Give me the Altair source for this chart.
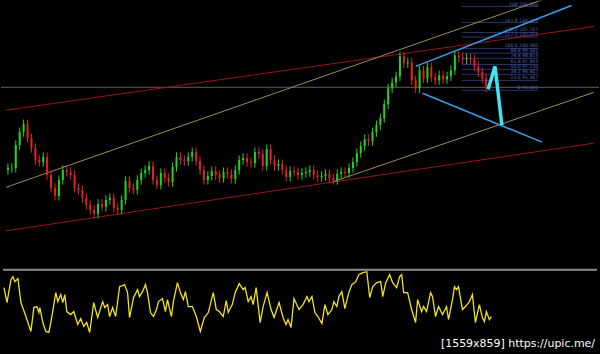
import altair as alt
import pandas as pd

# ---------------- data ----------------
first_open = 82.0
closes = [82.30, 82.30, 85.75, 87.70, 88.90, 86.80, 85.30, 83.50, 83.20, 83.95,
          81.25, 79.30, 78.10, 80.50, 82.00, 81.70, 81.25, 79.30, 79.00, 77.80,
          76.75, 76.00, 75.40, 76.90, 76.45, 77.50, 77.80, 76.30, 76.00, 77.50,
          80.35, 79.30, 79.00, 80.50, 81.55, 82.00, 82.60, 80.50, 79.75, 81.55,
          80.80, 80.20, 82.45, 83.95, 83.50, 83.35, 83.95, 84.70, 83.35, 82.00,
          80.50, 81.10, 81.85, 81.25, 80.80, 81.70, 81.40, 80.65, 82.00, 83.50,
          83.80, 83.20, 83.05, 84.70, 84.40, 82.60, 85.15, 83.50, 82.60, 82.90,
          82.00, 80.95, 81.85, 81.70, 81.25, 81.55, 81.70, 82.00, 81.25, 80.95,
          81.10, 81.40, 80.80, 80.50, 81.40, 81.70, 81.55, 82.30, 83.20, 84.55,
          85.60, 86.65, 86.35, 87.70, 88.75, 89.80, 91.90, 94.30, 95.20, 96.10,
          99.10, 98.05, 98.20, 95.50, 94.30, 97.00, 95.80, 97.45, 95.95, 95.50,
          96.25, 95.65, 96.10, 97.00, 99.25, 98.95, 98.65, 98.80, 98.65, 97.60,
          96.70, 95.80, 94.45]
wick = 0.7

fib_ratio = ["0", "23.6", "38.2", "50.0", "61.8", "76.4", "88.6", "100.0",
             "127.2", "138.2", "161.8", "200"]
fib_price = [94.000, 95.487, 96.407, 97.150, 97.893, 98.813, 99.582, 100.300,
             102.014, 102.707, 104.193, 106.600]
fib_t0, fib_t1 = 115.75, 135.25

hline_price = [94.45]

red_up_t, red_up_p = [-0.5, 149.5], [91.0, 103.6]
red_lo_t, red_lo_p = [-0.5, 149.5], [72.85, 86.05]
tan_up_t, tan_up_p = [-0.5, 149.5], [79.4, 110.35]
tan_lo_t, tan_lo_p = [82.75, 149.5], [80.2, 93.7]
blue_up_t, blue_up_p = [104.0, 143.75], [97.6, 106.75]
blue_lo_t, blue_lo_p = [105.75, 136.25], [93.55, 86.2]
cyan_t, cyan_p = [122.5, 124.25, 126.0], [94.15, 97.6, 88.75]

osc_t = [0.25, 1, 2, 2.5, 3, 3.75, 4.5, 5.75, 7, 7.75, 8.5, 9, 9.25, 10, 10.75, 11.5, 12,
         13.25, 13.75, 14.5, 15, 15.5, 16, 17, 17.75, 18.75, 19.5, 20.25, 21, 21.75, 22.75,
         23.75, 25, 25.5, 26.25, 26.75, 27.5, 28.25, 29.25, 30, 30.5, 31.25, 31.75, 32.75,
         33.75, 34.25, 35, 35.75, 36.25, 37, 37.75, 38.5, 39, 40, 40.75, 41.25, 42.25, 42.75,
         43.75, 44.5, 45.25, 45.75, 46.5, 47.5, 48.5, 49.5, 50.5, 51.5, 52.75, 53.5, 54.25,
         55.25, 56, 56.5, 57.5, 58.25, 59.25, 60.25, 60.75, 61.5, 62.25, 62.75, 63.5, 64.5,
         65.25, 66.25, 67.25, 68, 69.25, 70.25, 71, 71.5, 72.25, 73, 74.25, 75.25, 76.25,
         76.75, 77.5, 78.25, 79, 80, 80.75, 81.5, 82.5, 83, 83.75, 84.25, 85, 85.75, 86.75,
         87.5, 88.5, 89.25, 90.25, 91.25, 92, 92.75, 93.75, 94.75, 95.25, 96, 97, 97.75,
         98.75, 99.5, 100, 100.5, 101.5, 102.5, 103.5, 104, 105, 105.5, 106.25, 107.25,
         107.75, 108.5, 109.25, 110.25, 111.25, 111.75, 112.75, 113.25, 113.75, 114.25,
         115.25, 116, 117, 117.75, 118.5, 119.5, 120.25, 120.75, 121.25, 122, 122.5]
osc_v = [52, 37, 60, 63, 58, 61, 37, 23, 8, 32, 33, 27, 32, 17, 8, 7, 17,
         47, 38, 45, 37, 45, 28, 25, 28, 15, 21, 13, 17, 7, 37,
         22, 38, 32, 35, 23, 32, 23, 53, 54, 55, 47, 22, 42,
         50, 43, 48, 55, 47, 27, 23, 30, 38, 41, 28, 40, 23, 38,
         57, 47, 40, 48, 33, 33, 23, 8, 22, 27, 47, 30, 28,
         23, 39, 27, 35, 47, 56, 50, 52, 38, 43, 35, 52, 17,
         33, 47, 30, 22, 37, 22, 15, 20, 12, 41, 30, 35, 43,
         38, 43, 27, 23, 16, 35, 25, 30, 38, 33, 43, 48, 31, 47,
         55, 58, 65, 67, 68, 42, 53, 57, 58, 43, 57, 65, 57,
         52, 63, 65, 47, 47, 30, 17, 40, 28, 33, 28, 47,
         43, 23, 33, 25, 33, 20, 40, 53, 50, 53,
         30, 33, 38, 45, 17, 35, 22, 18, 28, 20, 23]
osc_level = [70]

# ---------------- tables ----------------
opens = [first_open] + closes[:-1]
candles = pd.DataFrame({
    "t": list(range(len(closes))),
    "open": opens,
    "close": closes,
})
candles["high"] = candles[["open", "close"]].max(axis=1) + wick
candles["low"] = candles[["open", "close"]].min(axis=1) - wick
candles["dir"] = ["up" if c >= o else "down" for o, c in zip(opens, closes)]

fib = pd.DataFrame({"r": fib_ratio, "p": fib_price})
fib["t0"] = fib_t0
fib["t1"] = fib_t1
fib["label"] = [f"{r}  {p:.3f}" for r, p in zip(fib_ratio, fib_price)]

xs = alt.Scale(domain=[-0.5, 149.5], nice=False, zero=False)
ys = alt.Scale(domain=[68.2, 107.5], nice=False, zero=False)
W, H1, H2 = 600, 262, 92


def seg(ts, ps, color, width=1.0):
    df = pd.DataFrame({"t": ts, "p": ps, "o": range(len(ts))})
    return alt.Chart(df).mark_line(color=color, strokeWidth=width, clip=True).encode(
        x=alt.X("t:Q", scale=xs, axis=None),
        y=alt.Y("p:Q", scale=ys, axis=None),
        order="o:Q",
    )


hline = alt.Chart(pd.DataFrame({"p": hline_price})).mark_rule(
    color="#5c5c5c", strokeWidth=1).encode(y=alt.Y("p:Q", scale=ys, axis=None))

fib_rules = alt.Chart(fib).mark_rule(color="#28356c", strokeWidth=1).encode(
    x=alt.X("t0:Q", scale=xs, axis=None), x2="t1:Q",
    y=alt.Y("p:Q", scale=ys, axis=None))
fib_text = alt.Chart(fib).mark_text(
    align="right", baseline="bottom", fontSize=4.6, font="DejaVu Sans",
    color="#5366b8", dy=0).encode(
    x=alt.X("t1:Q", scale=xs, axis=None),
    y=alt.Y("p:Q", scale=ys, axis=None), text="label:N")

col = alt.Color("dir:N", scale=alt.Scale(domain=["up", "down"],
                                          range=["#22d41e", "#e3202a"]), legend=None)
wicks = alt.Chart(candles).mark_rule(strokeWidth=1).encode(
    x=alt.X("t:Q", scale=xs, axis=None),
    y=alt.Y("low:Q", scale=ys, axis=None), y2="high:Q", color=col)
bodies = alt.Chart(candles).mark_bar(size=2).encode(
    x=alt.X("t:Q", scale=xs, axis=None),
    y=alt.Y("open:Q", scale=ys, axis=None), y2="close:Q", color=col)

top = alt.layer(
    hline,
    fib_rules,
    fib_text,
    seg(red_up_t, red_up_p, "#9a161a"),
    seg(red_lo_t, red_lo_p, "#9a161a"),
    seg(tan_up_t, tan_up_p, "#a08a58"),
    seg(tan_lo_t, tan_lo_p, "#a08a58"),
    wicks,
    bodies,
    seg(blue_up_t, blue_up_p, "#3a9be3", 1.6),
    seg(blue_lo_t, blue_lo_p, "#3a9be3", 1.6),
    seg(cyan_t, cyan_p, "#3fe3f2", 3.5),
).properties(width=W, height=H1)

os_scale = alt.Scale(domain=[-14, 78], nice=False, zero=False)
osc = pd.DataFrame({"t": osc_t, "v": osc_v})
level = alt.Chart(pd.DataFrame({"v": osc_level})).mark_rule(
    color="#8c8c8c", strokeWidth=2).encode(
    x=alt.value(2), x2=alt.value(598),
    y=alt.Y("v:Q", scale=os_scale, axis=None))
osc_line = alt.Chart(osc).mark_line(color="#f2e41e", strokeWidth=1.3).encode(
    x=alt.X("t:Q", scale=xs, axis=None),
    y=alt.Y("v:Q", scale=os_scale, axis=None))
mark_txt = alt.Chart(pd.DataFrame({"s": ["[1559x859] https://upic.me/"]})).mark_text(
    align="right", baseline="alphabetic", fontSize=11, font="DejaVu Sans",
    color="#ffffff").encode(x=alt.value(596), y=alt.value(86), text="s:N")

bottom = alt.layer(level, osc_line, mark_txt).properties(width=W, height=H2)

chart = alt.vconcat(top, bottom, spacing=0).properties(
    background="#000000", padding=0
).configure_view(stroke=None).configure_concat(spacing=0)

chart.save("out.html", embed_options={"renderer": "svg", "actions": False})
